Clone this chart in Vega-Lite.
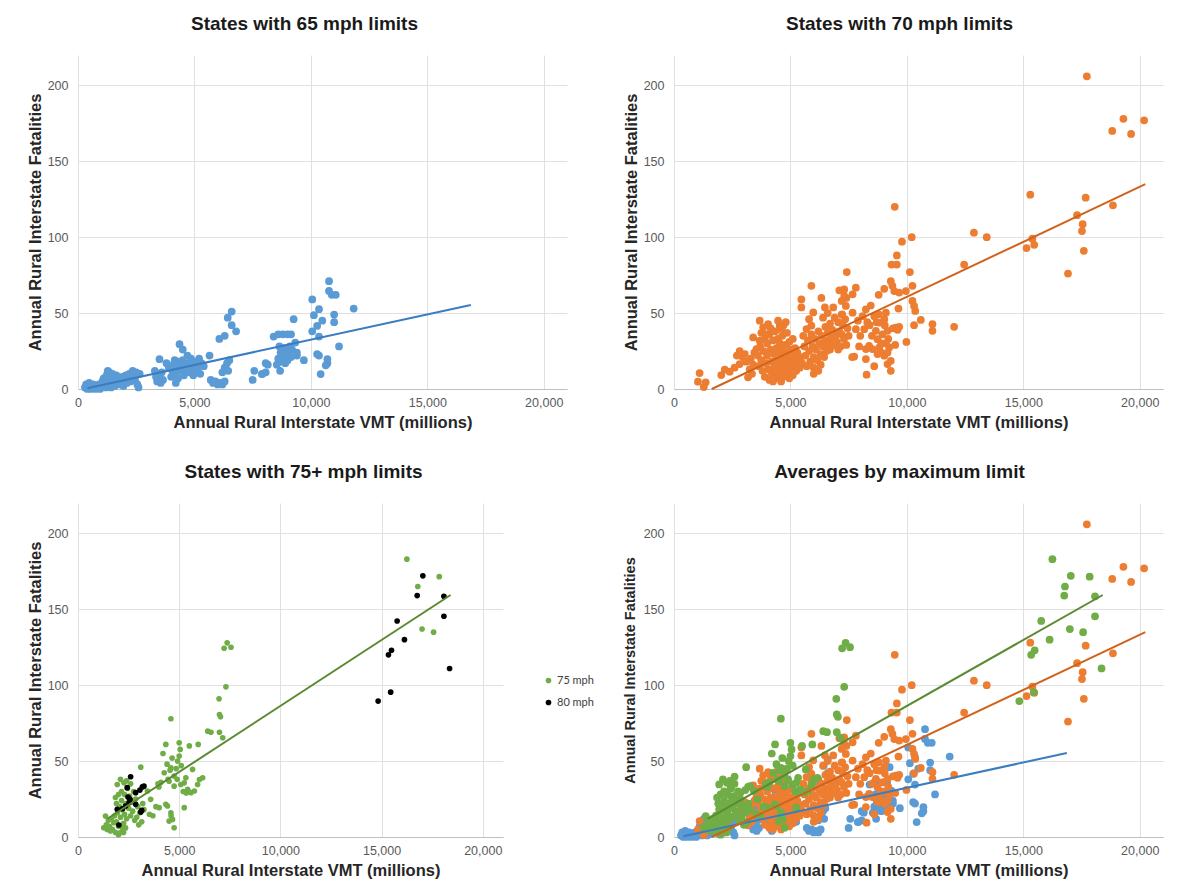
{
"$schema":"https://vega.github.io/schema/vega-lite/v6.json",
"background":"white",
"padding":{"left":27,"top":15,"right":5,"bottom":5},
"config":{
"font":"Liberation Sans",
"view":{"stroke":null},
"axis":{"gridColor":"#E0E0E0","gridWidth":1,"ticks":false,"domain":false,"labelFont":"Liberation Sans","labelFontSize":12.5,"labelColor":"#595959","titleFont":"Liberation Sans","titleFontSize":16.5,"titleFontWeight":"bold","titleColor":"#262626"},
"axisX":{"domain":true,"domainColor":"#BFBFBF","labelPadding":7,"titlePadding":6},
"axisY":{"labelPadding":10,"titlePadding":4},
"title":{"font":"Liberation Sans","fontSize":19,"fontWeight":"bold","color":"#1a1a1a","frame":"group","anchor":"middle","baseline":"alphabetic","offset":21}
},
"datasets":{
"d65":[{"vmt":300,"fat":1},{"vmt":350,"fat":3},{"vmt":400,"fat":0},{"vmt":420,"fat":2},{"vmt":480,"fat":4},{"vmt":520,"fat":1},{"vmt":560,"fat":0},{"vmt":600,"fat":2},{"vmt":650,"fat":3},{"vmt":700,"fat":1},{"vmt":760,"fat":0},{"vmt":800,"fat":2},{"vmt":850,"fat":1},{"vmt":900,"fat":3},{"vmt":950,"fat":0},{"vmt":1000,"fat":2},{"vmt":1050,"fat":5},{"vmt":1100,"fat":2},{"vmt":1100,"fat":7},{"vmt":1150,"fat":4},{"vmt":1200,"fat":8},{"vmt":1200,"fat":1},{"vmt":1250,"fat":10},{"vmt":1280,"fat":12},{"vmt":1300,"fat":5},{"vmt":1320,"fat":3},{"vmt":1350,"fat":11},{"vmt":1380,"fat":7},{"vmt":1400,"fat":9},{"vmt":1420,"fat":1},{"vmt":1450,"fat":6},{"vmt":1480,"fat":10},{"vmt":1500,"fat":4},{"vmt":1550,"fat":8},{"vmt":1580,"fat":2},{"vmt":1600,"fat":6},{"vmt":1650,"fat":9},{"vmt":1700,"fat":4},{"vmt":1750,"fat":7},{"vmt":1800,"fat":3},{"vmt":1850,"fat":5},{"vmt":1900,"fat":8},{"vmt":1950,"fat":2},{"vmt":2000,"fat":6},{"vmt":2050,"fat":9},{"vmt":2100,"fat":4},{"vmt":2150,"fat":7},{"vmt":2200,"fat":10},{"vmt":2250,"fat":5},{"vmt":2300,"fat":8},{"vmt":2350,"fat":12},{"vmt":2400,"fat":9},{"vmt":2450,"fat":6},{"vmt":2500,"fat":11},{"vmt":2550,"fat":3},{"vmt":2600,"fat":1},{"vmt":2650,"fat":10},
{"vmt":3300,"fat":12},{"vmt":3350,"fat":8},{"vmt":3400,"fat":5},{"vmt":3450,"fat":10},{"vmt":3500,"fat":19.6},{"vmt":3500,"fat":7},{"vmt":3550,"fat":4},{"vmt":3600,"fat":11},{"vmt":3650,"fat":6},{"vmt":3800,"fat":17},{"vmt":3900,"fat":14},{"vmt":4000,"fat":8},{"vmt":4050,"fat":12},{"vmt":4100,"fat":16},{"vmt":4150,"fat":19},{"vmt":4200,"fat":4},{"vmt":4200,"fat":10},{"vmt":4250,"fat":14},{"vmt":4300,"fat":18},{"vmt":4300,"fat":7},{"vmt":4360,"fat":29.5},{"vmt":4400,"fat":16},{"vmt":4450,"fat":12},{"vmt":4500,"fat":26},{"vmt":4500,"fat":19},{"vmt":4550,"fat":9},{"vmt":4600,"fat":15},{"vmt":4650,"fat":13},{"vmt":4700,"fat":22},{"vmt":4750,"fat":17},{"vmt":4800,"fat":11},{"vmt":4850,"fat":20},{"vmt":4900,"fat":14},{"vmt":4950,"fat":9},{"vmt":5000,"fat":16},{"vmt":5050,"fat":12},{"vmt":5100,"fat":18},{"vmt":5150,"fat":14},{"vmt":5200,"fat":20},{"vmt":5250,"fat":10},{"vmt":5300,"fat":17},{"vmt":5400,"fat":15},{"vmt":5650,"fat":22},
{"vmt":5700,"fat":6},{"vmt":5800,"fat":4},{"vmt":5900,"fat":5},{"vmt":6000,"fat":3},{"vmt":6100,"fat":4},{"vmt":6200,"fat":3},{"vmt":6300,"fat":5},{"vmt":6070,"fat":33},{"vmt":6300,"fat":35},{"vmt":6200,"fat":11},{"vmt":6300,"fat":14},{"vmt":6400,"fat":17},{"vmt":6450,"fat":12},{"vmt":6500,"fat":19},{"vmt":6430,"fat":47},{"vmt":6600,"fat":51},{"vmt":6600,"fat":42},{"vmt":6790,"fat":38},
{"vmt":7500,"fat":6},{"vmt":7570,"fat":12},{"vmt":7930,"fat":10},{"vmt":8150,"fat":16},{"vmt":8060,"fat":11},{"vmt":7890,"fat":9.8},{"vmt":8060,"fat":17},
{"vmt":8400,"fat":34.5},{"vmt":8600,"fat":36},{"vmt":8800,"fat":36},{"vmt":9000,"fat":36},{"vmt":9150,"fat":36},{"vmt":8540,"fat":16},{"vmt":8680,"fat":12},{"vmt":8600,"fat":20},{"vmt":8700,"fat":24},{"vmt":8750,"fat":18},{"vmt":8800,"fat":22},{"vmt":8850,"fat":27},{"vmt":8900,"fat":20},{"vmt":8950,"fat":25},{"vmt":9000,"fat":19},{"vmt":9050,"fat":23},{"vmt":9100,"fat":28},{"vmt":9150,"fat":21},{"vmt":9190,"fat":26},{"vmt":8650,"fat":28},{"vmt":8900,"fat":17},{"vmt":9260,"fat":46},{"vmt":9330,"fat":30.6},{"vmt":9400,"fat":24},{"vmt":9400,"fat":22},{"vmt":9700,"fat":19},
{"vmt":10060,"fat":59},{"vmt":10130,"fat":48.6},{"vmt":10350,"fat":52.6},{"vmt":10490,"fat":45},{"vmt":10060,"fat":38},{"vmt":10270,"fat":41.5},{"vmt":10350,"fat":34.5},{"vmt":10270,"fat":23},{"vmt":10350,"fat":22},{"vmt":10420,"fat":9.8},{"vmt":10780,"fat":71},{"vmt":10780,"fat":64.6},{"vmt":10900,"fat":62},{"vmt":11070,"fat":62},{"vmt":11000,"fat":49},{"vmt":11000,"fat":44},{"vmt":10710,"fat":19.6},{"vmt":10710,"fat":17},{"vmt":10640,"fat":15.6},{"vmt":11210,"fat":28},{"vmt":11840,"fat":53}],
"d70":[{"vmt":1100,"fat":10.5},{"vmt":1030,"fat":4.8},{"vmt":1360,"fat":4.4},{"vmt":1280,"fat":1.3},{"vmt":2030,"fat":9.2},{"vmt":2180,"fat":12.7},{"vmt":2390,"fat":11.4},{"vmt":2600,"fat":14},{"vmt":2820,"fat":16.4},{"vmt":2820,"fat":25},{"vmt":3040,"fat":23},{"vmt":3180,"fat":7.7},{"vmt":3250,"fat":13},{"vmt":3400,"fat":16},{"vmt":2950,"fat":21},{"vmt":3100,"fat":18},{"vmt":3300,"fat":20},{"vmt":3350,"fat":10},{"vmt":2700,"fat":22},{"vmt":3450,"fat":24},
{"vmt":3680,"fat":45},{"vmt":3830,"fat":40.6},{"vmt":4040,"fat":42.8},{"vmt":4470,"fat":45},{"vmt":4610,"fat":39.5},{"vmt":4540,"fat":41.7},{"vmt":3400,"fat":34},{"vmt":3680,"fat":31.8},{"vmt":3540,"fat":26.3},
{"vmt":3600,"fat":22},{"vmt":3650,"fat":15},{"vmt":3700,"fat":28},{"vmt":3750,"fat":19},{"vmt":3800,"fat":12},{"vmt":3850,"fat":25},{"vmt":3900,"fat":33},{"vmt":3900,"fat":8},{"vmt":3950,"fat":17},{"vmt":4000,"fat":22},{"vmt":4000,"fat":30},{"vmt":4050,"fat":13},{"vmt":4100,"fat":36},{"vmt":4100,"fat":6},{"vmt":4150,"fat":26},{"vmt":4200,"fat":18},{"vmt":4200,"fat":10},{"vmt":4250,"fat":32},{"vmt":4300,"fat":23},{"vmt":4300,"fat":14},{"vmt":4350,"fat":38},{"vmt":4350,"fat":7},{"vmt":4400,"fat":27},{"vmt":4400,"fat":19},{"vmt":4450,"fat":11},{"vmt":4450,"fat":33},{"vmt":4500,"fat":16},{"vmt":4500,"fat":24},{"vmt":4550,"fat":30},{"vmt":4550,"fat":8},{"vmt":4600,"fat":20},{"vmt":4600,"fat":13},{"vmt":4650,"fat":35},{"vmt":4650,"fat":26},{"vmt":4700,"fat":17},{"vmt":4700,"fat":42},{"vmt":4750,"fat":22},{"vmt":4750,"fat":10},{"vmt":4800,"fat":29},{"vmt":4800,"fat":15},{"vmt":4850,"fat":37},{"vmt":4850,"fat":19},{"vmt":4900,"fat":24},{"vmt":4900,"fat":12},{"vmt":4950,"fat":31},{"vmt":4950,"fat":7},{"vmt":5000,"fat":18},{"vmt":5000,"fat":26},{"vmt":5050,"fat":22},{"vmt":5050,"fat":14},{"vmt":5100,"fat":33},{"vmt":5100,"fat":9},{"vmt":5150,"fat":20},{"vmt":5200,"fat":27},{"vmt":5200,"fat":16},{"vmt":5250,"fat":12},{"vmt":5300,"fat":24},{"vmt":5350,"fat":19},{"vmt":5400,"fat":14},{"vmt":5450,"fat":21},{"vmt":5500,"fat":17},{"vmt":4250,"fat":5},{"vmt":4600,"fat":5},{"vmt":4700,"fat":8},{"vmt":4150,"fat":40},{"vmt":4800,"fat":44},{"vmt":3950,"fat":36},{"vmt":3750,"fat":37},
{"vmt":5470,"fat":59},{"vmt":5470,"fat":53.7},{"vmt":5900,"fat":68},{"vmt":6330,"fat":60},{"vmt":6480,"fat":53.7},{"vmt":6840,"fat":53.7},{"vmt":5980,"fat":50.4},{"vmt":5900,"fat":41.7},{"vmt":6400,"fat":47},{"vmt":5690,"fat":39.5},
{"vmt":5550,"fat":35},{"vmt":5600,"fat":28},{"vmt":5650,"fat":22},{"vmt":5700,"fat":15},{"vmt":5750,"fat":32},{"vmt":5800,"fat":25},{"vmt":5850,"fat":18},{"vmt":5900,"fat":36},{"vmt":5950,"fat":28},{"vmt":6000,"fat":21},{"vmt":6000,"fat":14},{"vmt":6050,"fat":33},{"vmt":6100,"fat":26},{"vmt":6150,"fat":19},{"vmt":6200,"fat":38},{"vmt":6250,"fat":30},{"vmt":6300,"fat":23},{"vmt":6300,"fat":16},{"vmt":6350,"fat":35},{"vmt":6400,"fat":28},{"vmt":6450,"fat":21},{"vmt":6500,"fat":41},{"vmt":6500,"fat":32},{"vmt":6550,"fat":25},{"vmt":6600,"fat":37},{"vmt":6650,"fat":30},{"vmt":6700,"fat":43},{"vmt":6700,"fat":26},{"vmt":6750,"fat":34},{"vmt":6800,"fat":39},{"vmt":6850,"fat":29},{"vmt":6900,"fat":47},{"vmt":6950,"fat":35},{"vmt":7000,"fat":31},{"vmt":7050,"fat":44},{"vmt":7100,"fat":38},{"vmt":7150,"fat":28},{"vmt":7200,"fat":49},{"vmt":7200,"fat":36},{"vmt":7250,"fat":42},{"vmt":7300,"fat":33},{"vmt":7350,"fat":46},{"vmt":7400,"fat":29},{"vmt":7450,"fat":40},{"vmt":7500,"fat":35},{"vmt":6000,"fat":10},{"vmt":6200,"fat":12},{"vmt":5800,"fat":46},{"vmt":6600,"fat":50},{"vmt":7050,"fat":26},{"vmt":7400,"fat":60},{"vmt":7310,"fat":61.3},{"vmt":7310,"fat":65.6},{"vmt":7380,"fat":54.7},{"vmt":7220,"fat":49.2},{"vmt":7420,"fat":77},{"vmt":7670,"fat":62.4},{"vmt":7810,"fat":66.7},{"vmt":7670,"fat":50.3},{"vmt":7100,"fat":65},{"vmt":7200,"fat":58},
{"vmt":8240,"fat":52.5},{"vmt":7740,"fat":21.4},{"vmt":7810,"fat":39.4},{"vmt":8170,"fat":39.4},{"vmt":7650,"fat":21},{"vmt":8270,"fat":9.4},{"vmt":8240,"fat":26.3},{"vmt":8240,"fat":19.7},{"vmt":8380,"fat":28.4},{"vmt":8520,"fat":26.3},{"vmt":8740,"fat":23},{"vmt":8670,"fat":38.3},{"vmt":8740,"fat":32.8},{"vmt":8820,"fat":27.4},{"vmt":9030,"fat":21.9},{"vmt":9170,"fat":24},{"vmt":9240,"fat":27.4},{"vmt":9310,"fat":18.6},{"vmt":9170,"fat":16.4},{"vmt":9310,"fat":12},{"vmt":8790,"fat":49.2},{"vmt":9030,"fat":46},{"vmt":9100,"fat":50.3},{"vmt":8820,"fat":43.8},{"vmt":9170,"fat":38.3},{"vmt":9530,"fat":40.5},{"vmt":9670,"fat":41},{"vmt":10310,"fat":42},{"vmt":9980,"fat":31},{"vmt":9640,"fat":53},{"vmt":10240,"fat":58},{"vmt":10310,"fat":54.7},{"vmt":10360,"fat":51.4},{"vmt":9030,"fat":66},{"vmt":8790,"fat":62},{"vmt":9310,"fat":71},{"vmt":9380,"fat":68},{"vmt":9460,"fat":64.5},{"vmt":9670,"fat":63.5},{"vmt":9960,"fat":64.5},{"vmt":10240,"fat":68},{"vmt":10130,"fat":77},{"vmt":9570,"fat":88},{"vmt":9340,"fat":82},{"vmt":9570,"fat":82},{"vmt":9790,"fat":97},{"vmt":10210,"fat":100},{"vmt":9480,"fat":120},{"vmt":10600,"fat":45.5},{"vmt":11100,"fat":42.7},{"vmt":11100,"fat":38.3},{"vmt":12030,"fat":41},{"vmt":7900,"fat":45},{"vmt":8000,"fat":35},{"vmt":8100,"fat":48},{"vmt":8400,"fat":42},{"vmt":8500,"fat":35},{"vmt":8600,"fat":48},{"vmt":8700,"fat":44},{"vmt":8900,"fat":30},{"vmt":8950,"fat":36},{"vmt":9050,"fat":42},{"vmt":9200,"fat":33},{"vmt":9400,"fat":40},{"vmt":9500,"fat":29},{"vmt":9600,"fat":39},{"vmt":8450,"fat":55},{"vmt":8300,"fat":44},{"vmt":7950,"fat":28},{"vmt":8600,"fat":15},{"vmt":8900,"fat":24},{"vmt":9100,"fat":30},
{"vmt":12460,"fat":82},{"vmt":12880,"fat":103},{"vmt":13430,"fat":100},{"vmt":15300,"fat":128},{"vmt":15140,"fat":92.8},{"vmt":15390,"fat":99},{"vmt":15470,"fat":95},{"vmt":16920,"fat":76},{"vmt":17310,"fat":114.5},{"vmt":17550,"fat":108.6},{"vmt":17520,"fat":104},{"vmt":17600,"fat":91},{"vmt":17680,"fat":126},{"vmt":18850,"fat":121},{"vmt":17730,"fat":206},{"vmt":18820,"fat":170},{"vmt":19300,"fat":178},{"vmt":19630,"fat":168},{"vmt":20190,"fat":177}],
"d75":[{"vmt":1360,"fat":13.8},{"vmt":1270,"fat":6.1},{"vmt":1440,"fat":5},{"vmt":1600,"fat":4},{"vmt":2100,"fat":2.9},{"vmt":2190,"fat":6.1},{"vmt":1770,"fat":9.4},{"vmt":1400,"fat":8},{"vmt":1500,"fat":11},{"vmt":1550,"fat":7},{"vmt":1650,"fat":12},{"vmt":1700,"fat":5},{"vmt":1800,"fat":14},{"vmt":1850,"fat":3},{"vmt":1900,"fat":10},{"vmt":1950,"fat":16},{"vmt":2000,"fat":7},{"vmt":2050,"fat":20},{"vmt":2100,"fat":13},{"vmt":2150,"fat":24},{"vmt":2200,"fat":18},{"vmt":2250,"fat":9},{"vmt":2300,"fat":28},{"vmt":2300,"fat":15},{"vmt":2350,"fat":22},{"vmt":2400,"fat":12},{"vmt":2450,"fat":32},{"vmt":2500,"fat":19},{"vmt":2550,"fat":27},{"vmt":2600,"fat":14},{"vmt":2650,"fat":23},{"vmt":2700,"fat":17},{"vmt":2750,"fat":30},{"vmt":2800,"fat":11},{"vmt":2850,"fat":25},{"vmt":2900,"fat":13},{"vmt":2950,"fat":20},{"vmt":3000,"fat":8},{"vmt":3050,"fat":16},{"vmt":3150,"fat":10},{"vmt":3200,"fat":22},{"vmt":3260,"fat":18},{"vmt":2100,"fat":38},{"vmt":2270,"fat":35.7},{"vmt":1940,"fat":34.6},{"vmt":2000,"fat":28},{"vmt":2150,"fat":30},{"vmt":1900,"fat":22},{"vmt":1850,"fat":26},{"vmt":2400,"fat":37},{"vmt":2600,"fat":35},{"vmt":2250,"fat":3},{"vmt":2350,"fat":6},{"vmt":3100,"fat":46},{"vmt":3430,"fat":30.3},{"vmt":3590,"fat":24.8},{"vmt":3700,"fat":14},{"vmt":2000,"fat":1.5},{"vmt":3530,"fat":15},
{"vmt":4010,"fat":19.3},{"vmt":4340,"fat":21.5},{"vmt":4420,"fat":20.4},{"vmt":4590,"fat":16},{"vmt":4670,"fat":11.6},{"vmt":4500,"fat":10.5},{"vmt":4750,"fat":6.1},{"vmt":5250,"fat":19.3},{"vmt":4590,"fat":77.9},{"vmt":4340,"fat":61},{"vmt":5000,"fat":62},{"vmt":5500,"fat":60},{"vmt":5940,"fat":61},{"vmt":4260,"fat":42.3},{"vmt":4590,"fat":45.6},{"vmt":4920,"fat":50},{"vmt":5000,"fat":53.3},{"vmt":5050,"fat":57.7},{"vmt":4500,"fat":36.8},{"vmt":4750,"fat":40.1},{"vmt":4750,"fat":33.5},{"vmt":5080,"fat":34.6},{"vmt":5250,"fat":35.7},{"vmt":5420,"fat":31.4},{"vmt":5580,"fat":29.2},{"vmt":5750,"fat":30.3},{"vmt":6000,"fat":37.9},{"vmt":6160,"fat":39},{"vmt":5660,"fat":44.5},{"vmt":5910,"fat":34.6},{"vmt":5330,"fat":39},{"vmt":4200,"fat":55},{"vmt":4400,"fat":48},{"vmt":4450,"fat":38},{"vmt":4550,"fat":44},{"vmt":4650,"fat":52},{"vmt":4850,"fat":45},{"vmt":4900,"fat":38},{"vmt":5100,"fat":47},{"vmt":5200,"fat":30},{"vmt":5350,"fat":29},{"vmt":3850,"fat":20},{"vmt":4100,"fat":36},{"vmt":4000,"fat":33},{"vmt":4600,"fat":14},{"vmt":3950,"fat":35},
{"vmt":6410,"fat":69.7},{"vmt":6570,"fat":69},{"vmt":6990,"fat":69},{"vmt":7150,"fat":65.4},{"vmt":6990,"fat":80.7},{"vmt":7040,"fat":79.2},{"vmt":6970,"fat":91},{"vmt":7310,"fat":98.9},{"vmt":7370,"fat":127.9},{"vmt":7220,"fat":124.3},{"vmt":7560,"fat":125},
{"vmt":16250,"fat":183},{"vmt":17850,"fat":171.5},{"vmt":16790,"fat":165},{"vmt":17000,"fat":137},{"vmt":17570,"fat":134.9}],
"d80":[{"vmt":17040,"fat":172},{"vmt":16760,"fat":159},{"vmt":18080,"fat":158.5},{"vmt":18080,"fat":145.4},{"vmt":15770,"fat":142.3},{"vmt":16130,"fat":130},{"vmt":15340,"fat":120},{"vmt":15490,"fat":123},{"vmt":18360,"fat":111},{"vmt":15450,"fat":95.4},{"vmt":14830,"fat":89.5},{"vmt":2600,"fat":39.7},{"vmt":2430,"fat":32.5},{"vmt":2470,"fat":26.3},{"vmt":2570,"fat":24.8},{"vmt":2850,"fat":29.2},{"vmt":3060,"fat":30.9},{"vmt":3180,"fat":33},{"vmt":3260,"fat":33.5},{"vmt":2190,"fat":18.6},{"vmt":1940,"fat":18.2},{"vmt":2350,"fat":20.4},{"vmt":2850,"fat":21.5},{"vmt":3100,"fat":16.4},{"vmt":2020,"fat":7.9},{"vmt":2520,"fat":22.6},{"vmt":3150,"fat":17.5}],
"tr":[{"s":"65","vmt":400,"fat":0.5},{"s":"65","vmt":16870,"fat":55.3},{"s":"70","vmt":1620,"fat":0},{"s":"70","vmt":20240,"fat":134.9},{"s":"75","vmt":1450,"fat":12},{"s":"75","vmt":18410,"fat":159.4}]
},
"columns":2,
"spacing":{"row":114,"column":107},
"bounds":"flush",
"align":"all",
"resolve":{"scale":{"color":"independent"},"legend":{"color":"independent"}},
"concat":[
{"width":489,"height":334,
"title":{"text":"States with 65 mph limits","dx":-18},
"encoding":{"x":{"field":"vmt","type":"quantitative","scale":{"domain":[0,21000],"nice":false},"axis":{"title":"Annual Rural Interstate VMT (millions)","values":[0,5000,10000,15000,20000],"format":",.0f","labelFlush":false}},
"y":{"field":"fat","type":"quantitative","scale":{"domain":[0,220],"nice":false},"axis":{"title":"Annual Rural Interstate Fatalities","values":[0,50,100,150,200]}}},
"layer":[
{"data":{"name":"d65"},"mark":{"type":"circle","size":60,"opacity":1,"color":"#5B9BD5"}},
{"data":{"name":"tr"},"transform":[{"filter":"datum.s==='65'"}],"mark":{"type":"line","color":"#3A7DC0","strokeWidth":2},"encoding":{}}
]},
{"width":489,"height":334,
"title":{"text":"States with 70 mph limits","dx":-19},
"encoding":{"x":{"field":"vmt","type":"quantitative","scale":{"domain":[0,21000],"nice":false},"axis":{"title":"Annual Rural Interstate VMT (millions)","values":[0,5000,10000,15000,20000],"format":",.0f","labelFlush":false}},
"y":{"field":"fat","type":"quantitative","scale":{"domain":[0,220],"nice":false},"axis":{"title":"Annual Rural Interstate Fatalities","values":[0,50,100,150,200]}}},
"layer":[
{"data":{"name":"d70"},"mark":{"type":"circle","size":60,"opacity":1,"color":"#ED7D31"}},
{"data":{"name":"tr"},"transform":[{"filter":"datum.s==='70'"}],"mark":{"type":"line","color":"#D0631C","strokeWidth":2},"encoding":{}}
]},
{"width":425,"height":334,
"title":{"text":"States with 75+ mph limits","dx":13},
"encoding":{"x":{"field":"vmt","type":"quantitative","scale":{"domain":[0,21000],"nice":false},"axis":{"title":"Annual Rural Interstate VMT (millions)","values":[0,5000,10000,15000,20000],"format":",.0f","labelFlush":false}},
"y":{"field":"fat","type":"quantitative","scale":{"domain":[0,220],"nice":false},"axis":{"title":"Annual Rural Interstate Fatalities","values":[0,50,100,150,200]}}},
"layer":[
{"data":{"name":"d75"},"mark":{"type":"circle","size":32,"opacity":1},
"encoding":{"color":{"datum":"75 mph","type":"nominal","scale":{"domain":["75 mph","80 mph"],"range":["#70AD47","#000000"]},
"legend":{"title":null,"orient":"none","legendX":465,"legendY":172,"padding":0,"labelFont":"Lato","labelFontSize":11,"labelColor":"#404040","symbolSize":32,"symbolType":"circle","rowPadding":10,"labelOffset":3}}}},
{"data":{"name":"d80"},"mark":{"type":"circle","size":32,"opacity":1},"encoding":{"color":{"datum":"80 mph","type":"nominal"}}},
{"data":{"name":"tr"},"transform":[{"filter":"datum.s==='75'"}],"mark":{"type":"line","color":"#5A8A32","strokeWidth":2},"encoding":{}}
]},
{"width":489,"height":334,
"title":{"text":"Averages by maximum limit","dx":-19},
"encoding":{"x":{"field":"vmt","type":"quantitative","scale":{"domain":[0,21000],"nice":false},"axis":{"title":"Annual Rural Interstate VMT (millions)","values":[0,5000,10000,15000,20000],"format":",.0f","labelFlush":false}},
"y":{"field":"fat","type":"quantitative","scale":{"domain":[0,220],"nice":false},"axis":{"title":"Annual Rural Interstate Fatalities","values":[0,50,100,150,200],"titleFontSize":14.5,"titlePadding":5.5}}},
"layer":[
{"data":{"name":"d65"},"mark":{"type":"circle","size":60,"opacity":1,"color":"#5B9BD5"}},
{"data":{"name":"d70"},"mark":{"type":"circle","size":60,"opacity":1,"color":"#ED7D31"}},
{"data":{"name":"d75"},"mark":{"type":"circle","size":60,"opacity":1,"color":"#70AD47"}},
{"data":{"name":"d80"},"mark":{"type":"circle","size":60,"opacity":1,"color":"#70AD47"}},
{"data":{"name":"tr"},"transform":[{"filter":"datum.s==='65'"}],"mark":{"type":"line","color":"#3A7DC0","strokeWidth":2},"encoding":{}},
{"data":{"name":"tr"},"transform":[{"filter":"datum.s==='70'"}],"mark":{"type":"line","color":"#D0631C","strokeWidth":2},"encoding":{}},
{"data":{"name":"tr"},"transform":[{"filter":"datum.s==='75'"}],"mark":{"type":"line","color":"#5A8A32","strokeWidth":2},"encoding":{}}
]}
]
}
